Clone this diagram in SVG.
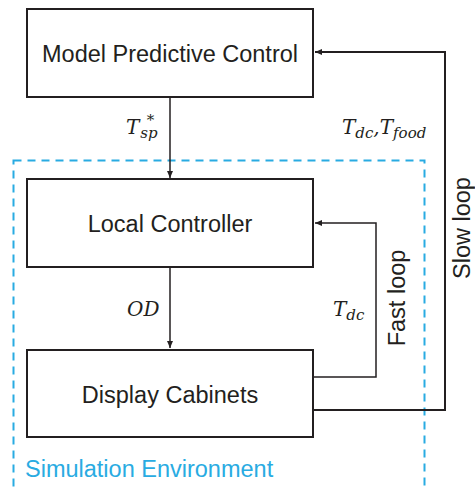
<svg xmlns="http://www.w3.org/2000/svg" width="475" height="487" viewBox="0 0 475 487">
<style>
.box{fill:#fff;stroke:#231f20;stroke-width:2}
.lbl{font-family:"Liberation Sans",Arial,sans-serif;font-size:23.5px;fill:#231f20;text-anchor:middle}
.math{font-family:"DejaVu Serif","Liberation Serif",serif;font-style:italic;font-size:20px;fill:#231f20}
.sub{font-size:15px}
.wire{fill:none;stroke:#231f20;stroke-width:2}
.thin{fill:none;stroke:#231f20;stroke-width:1.5}
</style>
<defs>
<marker id="ah" markerWidth="8" markerHeight="8" refX="7" refY="4" orient="auto" markerUnits="userSpaceOnUse">
<path d="M0,1 L7,4 L0,7 Z" fill="#231f20"/>
</marker>
</defs>
<rect id="sim-env" x="13.5" y="160.5" width="411" height="340" fill="none" stroke="#29abe2" stroke-width="2" stroke-dasharray="8,6"/>
<text x="25" y="477" font-family="Liberation Sans,Arial,sans-serif" font-size="23.5" fill="#29abe2">Simulation Environment</text>
<g id="connectors">
<path class="thin" d="M170,97 V178" marker-end="url(#ah)"/>
<path class="thin" d="M170,267 V348" marker-end="url(#ah)"/>
<path class="thin" d="M313,377 H376 V223 H315" marker-end="url(#ah)"/>
<path class="wire" d="M313,410 H445 V52 H315" marker-end="url(#ah)"/>
<text class="math" x="126" y="134">T<tspan class="sub" dx="1" dy="4">sp</tspan><tspan class="sub" dx="-11" dy="-13">*</tspan></text>
<text class="math" x="342" y="134">T<tspan class="sub" dy="4">dc</tspan><tspan dy="-4">,T</tspan><tspan class="sub" dy="4">food</tspan></text>
<text class="math" x="127" y="316">OD</text>
<text class="math" x="333" y="316">T<tspan class="sub" dy="4">dc</tspan></text>
<text class="lbl" transform="translate(405,298) rotate(-90)">Fast loop</text>
<text class="lbl" transform="translate(470,228) rotate(-90)">Slow loop</text>
</g>
<g id="mpc">
<rect class="box" x="27" y="9" width="286" height="88"/>
<text class="lbl" x="170" y="62">Model Predictive Control</text>
</g>
<g id="local-controller">
<rect class="box" x="27" y="179" width="286" height="88"/>
<text class="lbl" x="170" y="232">Local Controller</text>
</g>
<g id="display-cabinets">
<rect class="box" x="27" y="350" width="286" height="87"/>
<text class="lbl" x="170" y="403">Display Cabinets</text>
</g>
</svg>
